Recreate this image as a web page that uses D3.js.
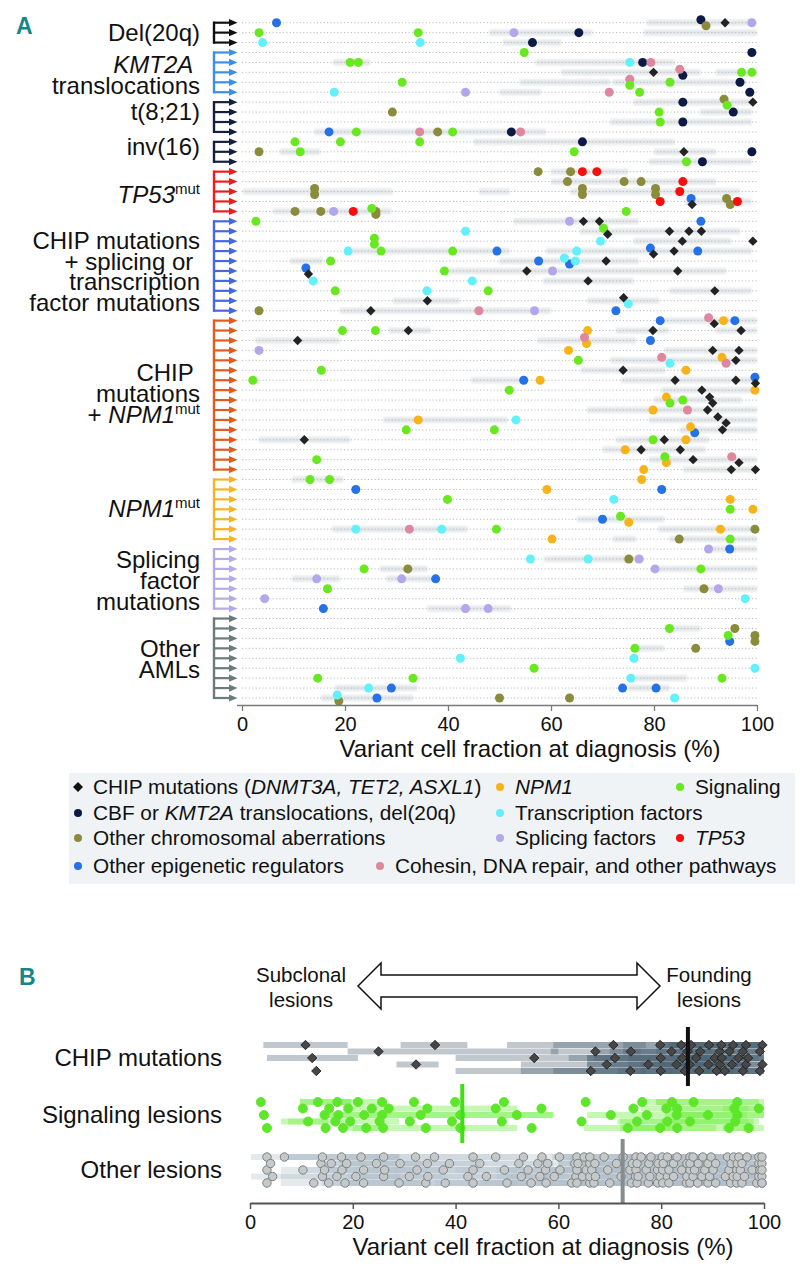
<!DOCTYPE html>
<html>
<head>
<meta charset="utf-8">
<script src="https://cdnjs.cloudflare.com/ajax/libs/d3/7.8.5/d3.min.js"></script>
<style>
  body { margin: 0; background: #fff; }
  svg text { font-family: "Liberation Sans", Arial, sans-serif; fill: #111; white-space: pre; }
</style>
</head>
<body>
<svg id="fig" width="801" height="1280"></svg>
<script>
// Data
// ================================
var vcfTicks = [0, 20, 40, 60, 80, 100];

// patient groups (rows, top to bottom)
var groupSizes = [3, 5, 4, 3, 5, 10, 16, 7, 7, 9];
var groupLabels = [
  ["Del(20q)"],
  ["<i>KMT2A</i> ", "translocations"],
  ["t(8;21)"],
  ["inv(16)"],
  ["<i>TP53</i><sup>mut</sup>"],
  ["CHIP mutations", "+ splicing or ", "transcription", "factor mutations"],
  ["CHIP ", "mutations", "+ <i>NPM1</i><sup>mut</sup>"],
  ["<i>NPM1</i><sup>mut</sup>"],
  ["Splicing", "factor", "mutations"],
  ["Other", "AMLs"]
];

// lesions per category: [row, variant cell fraction %]
var chipPts = [[0,93.8],[5,79.9],[8,99.2],[13,85.8],[18,87.4],[20,66.3],[20,69.4],[21,71.0],[21,83.0],[21,86.8],[21,89.2],[22,85.5],[22,99.2],[23,79.9],[23,83.9],[24,70.7],[25,12.9],[25,55.3],[25,84.6],[26,67.2],[27,91.8],[28,36.0],[28,74.1],[29,25.0],[30,91.7],[31,32.3],[31,79.8],[31,96.9],[32,10.8],[33,91.4],[33,96.5],[34,95.9],[35,74.0],[36,84.1],[36,95.9],[36,99.7],[37,89.3],[38,90.8],[38,91.4],[39,90.4],[40,92.4],[40,94.0],[41,93.3],[42,12.1],[42,82.0],[43,77.5],[43,85.1],[44,87.6],[44,96.5],[45,95.0],[45,99.7]];
var cbfPts = [[0,89.1],[1,65.4],[2,56.4],[3,99.0],[4,77.8],[5,85.6],[6,96.7],[7,98.6],[8,85.6],[9,95.4],[10,85.6],[11,52.3],[12,66.1],[13,99.0],[14,89.4]];
var chromPts = [[0,90.1],[8,93.6],[9,29.2],[11,38.0],[13,3.3],[15,57.5],[15,63.8],[16,63.2],[16,74.2],[16,77.5],[17,14.1],[17,14.1],[17,66.1],[17,66.1],[17,80.3],[17,80.3],[18,94.1],[18,94.8],[19,10.3],[19,15.3],[19,26.0],[19,26.0],[29,3.3],[51,99.6],[52,84.9],[54,75.1],[55,32.2],[57,89.7],[61,95.7],[62,99.6],[62,99.6],[63,88.1],[68,18.8],[68,50.0],[68,63.6]];
var epiPts = [[0,6.7],[11,16.9],[18,87.2],[20,89.1],[23,49.5],[23,79.3],[23,88.5],[24,57.6],[24,63.6],[25,12.4],[29,72.6],[30,81.2],[30,95.7],[32,79.3],[36,54.7],[36,99.6],[41,87.9],[47,22.1],[47,81.5],[50,70.0],[53,94.7],[56,37.6],[59,15.8],[62,94.7],[67,29.0],[67,73.9],[67,80.4],[68,26.2]];
var npm1Pts = [[30,93.5],[31,67.1],[32,66.9],[33,63.4],[34,93.2],[35,86.2],[36,57.9],[37,99.6],[38,82.4],[39,79.8],[40,34.2],[41,87.1],[42,86.2],[43,74.4],[44,82.4],[45,78.0],[46,77.6],[47,59.2],[48,94.8],[49,99.2],[50,75.1],[51,92.9],[52,60.2]];
var tfPts = [[2,4.0],[2,34.6],[4,75.3],[7,17.9],[21,43.4],[22,69.6],[23,20.6],[23,65.0],[24,62.6],[24,64.7],[26,13.8],[26,44.7],[27,35.9],[28,75.0],[34,83.1],[40,53.2],[48,72.2],[51,22.1],[51,38.8],[54,56.0],[54,67.2],[58,97.7],[64,42.4],[64,76.1],[65,99.6],[66,75.5],[67,24.6],[68,18.5],[68,84.0]];
var splicingPts = [[0,99.0],[1,52.8],[7,43.4],[19,17.8],[20,63.6],[25,60.3],[29,56.8],[33,3.3],[53,90.6],[54,77.1],[55,80.2],[56,14.5],[56,31.0],[57,92.5],[58,4.4],[59,43.4],[59,47.8]];
var cohesinPts = [[4,79.4],[5,85.0],[6,75.3],[7,71.3],[11,34.5],[11,54.1],[29,46.0],[30,90.6],[32,66.5],[34,81.5],[34,94.0],[39,86.5],[44,95.1],[51,32.5]];
var signalingPts = [[1,3.3],[1,34.2],[3,54.8],[4,21.0],[4,22.6],[5,97.0],[5,99.0],[6,31.1],[6,75.3],[6,83.1],[7,77.2],[8,94.2],[9,81.0],[10,81.2],[11,22.2],[11,40.9],[12,10.3],[12,19.1],[12,34.5],[13,11.3],[13,64.5],[14,86.3],[19,25.2],[19,74.6],[20,2.7],[21,70.2],[22,25.7],[22,25.7],[23,27.0],[23,40.9],[24,17.2],[25,39.3],[27,18.1],[27,47.8],[31,19.5],[31,25.9],[34,65.3],[35,15.4],[36,2.1],[37,51.9],[38,83.1],[38,85.6],[41,31.9],[41,49.0],[42,79.8],[44,14.5],[44,82.1],[46,13.2],[46,17.0],[48,39.9],[49,94.8],[50,73.5],[51,49.4],[52,94.8],[55,23.7],[55,89.1],[57,16.6],[61,83.0],[62,94.4],[63,76.3],[65,56.7],[66,14.7],[66,33.2],[66,93.2]];
var tp53Pts = [[15,66.1],[15,68.9],[16,85.6],[17,85.0],[18,81.2],[18,96.2],[19,21.6]];

// confidence ranges of VCF estimates: [row, low, high]
var ciRanges = [[0,78.6,99.2],[1,48,68],[1,78,100],[2,50.7,62],[4,17.7,24.9],[4,57,84],[5,62,89],[5,92,100],[6,54,71.5],[6,72,98],[7,50,58],[8,76,99],[9,89,99],[10,71.5,99],[11,14,59],[12,45,84],[13,7.4,15.2],[13,80,92],[14,79,99],[15,60,75],[16,60,92],[17,0.2,29.3],[17,46,52],[17,63.7,96.7],[18,86,99],[19,6,29],[20,52.7,77],[21,65.6,96.7],[22,76,95],[23,20,52],[23,59,99],[24,9.3,15.7],[24,50,77],[25,40,94],[26,58.5,76],[27,83,99],[28,29.3,42.3],[28,67,81],[29,19,60],[30,82,100],[31,28.5,36.7],[31,72.6,82.9],[31,92,100],[32,2.6,19],[32,57.3,76.5],[33,82,100],[34,71.5,100],[35,65.8,82.2],[36,44.5,54.5],[36,73.6,100],[37,81.5,100],[38,80,97],[39,67,100],[40,27.5,51.6],[40,79,100],[41,85,100],[42,3.3,21],[42,72.6,90.7],[43,70,90],[44,79,100],[45,85.7,100],[46,9.7,19.7],[50,65,82],[51,17.5,43.8],[51,80.8,100],[52,72,76.5],[52,83,100],[53,90,100],[54,58.7,78],[55,26.8,36],[55,80.8,100],[56,9.7,19],[56,28,37.4],[57,85.7,100],[59,36,52.3],[61,83,89],[63,76.5,82],[66,75.8,86.4],[67,18,34],[67,75,83],[68,15.4,33.2]];

var categoryKeys = ["chip", "cbf", "chrom", "epi", "npm1", "tf", "splicing", "cohesin", "signaling", "tp53"];
var categoryLabels = [
  "CHIP mutations (<i>DNMT3A, TET2, ASXL1</i>)",
  "CBF or <i>KMT2A</i> translocations, del(20q)",
  "Other chromosomal aberrations",
  "Other epigenetic regulators",
  "<i>NPM1</i>",
  "Transcription factors",
  "Splicing factors",
  "Cohesin, DNA repair, and other pathways",
  "Signaling",
  "<i>TP53</i>"
];
var categoryPts = [chipPts, cbfPts, chromPts, epiPts, npm1Pts, tfPts, splicingPts, cohesinPts, signalingPts, tp53Pts];

// panel B
var lesionClasses = ["CHIP mutations", "Signaling lesions", "Other lesions"];
var lesionMedians = [85.2, 41.3, 72.5];

// Styles
// ================================
var groupColors = ["#111111", "#3d8ee6", "#14203f", "#14203f", "#ee1c1c", "#4468e2", "#e25a1e", "#f6b324", "#b6aaea", "#6b7b7b"];
var labelNudge = [0, 3, -5, -5, 3, 6, -1, 0, 2, 1];
var catColor = {
  chip: "#232323", cbf: "#0d1a45", chrom: "#8a8b3b", epi: "#2571e8", npm1: "#f8b319",
  tf: "#62f0fb", splicing: "#b3a7e9", cohesin: "#de879f", signaling: "#68e81f", tp53: "#fb0d0d"
};
var legendPos = {
  chip: [78, 787], npm1: [500, 787], signaling: [680, 787],
  cbf: [78, 813], tf: [500, 813],
  chrom: [78, 838], splicing: [500, 838], tp53: [680, 838],
  epi: [78, 866], cohesin: [380, 866]
};
var narrowFont = "'Liberation Sans Narrow', 'Liberation Sans', sans-serif";

var svg = d3.select("#fig");

function rich(sel, str, supSize, italicFamily) {
  var re = /<(i|sup)>(.*?)<\/\1>|([^<]+)/g, m;
  while ((m = re.exec(str))) {
    if (m[3]) sel.append("tspan").text(m[3]);
    else if (m[1] === "i") {
      var t = sel.append("tspan").attr("font-style", "italic").text(m[2]);
      if (italicFamily) t.style("font-family", italicFamily);
    } else sel.append("tspan").attr("font-size", supSize).attr("dy", -9).text(m[2]);
  }
}

var diamond = d3.symbol().type(d3.symbolSquare).size(44);

// Panel A
// ================================
var nRows = d3.sum(groupSizes);
var xA = d3.scaleLinear().domain([0, 100]).range([242, 757]);
var yA = d3.scaleLinear().domain([0, nRows - 1]).range([22.7, 698]);

svg.append("defs").append("filter").attr("id", "soft")
  .attr("x", "-10%").attr("y", "-100%").attr("width", "120%").attr("height", "300%")
  .append("feGaussianBlur").attr("stdDeviation", 1.3);

svg.append("text").attr("x", 16).attr("y", 34).style("font-family", narrowFont)
  .attr("font-weight", "bold").attr("font-size", 23).style("fill", "#16868a").text("A");

// shaded CI ranges
svg.append("g").selectAll("rect").data(ciRanges).enter().append("rect")
  .attr("x", d => xA(d[1])).attr("width", d => xA(d[2]) - xA(d[1]))
  .attr("y", d => yA(d[0]) - 3).attr("height", 6)
  .attr("fill", "#d3d8db").attr("opacity", 0.6).attr("filter", "url(#soft)");

// dotted row lines
svg.append("g").selectAll("line").data(d3.range(nRows)).enter().append("line")
  .attr("x1", xA(0)).attr("x2", xA(100)).attr("y1", d => yA(d)).attr("y2", d => yA(d))
  .attr("stroke", "#b9bcbf").attr("stroke-width", 1).attr("stroke-dasharray", "1.2,2.2");

// group brackets and labels
var groupStart = 0;
groupSizes.forEach(function (n, g) {
  var col = groupColors[g];
  var rows = d3.range(groupStart, groupStart + n);
  var br = svg.append("g");
  br.append("line").attr("x1", 214).attr("x2", 214)
    .attr("y1", yA(rows[0]) - 1).attr("y2", yA(rows[n - 1]) + 1)
    .attr("stroke", col).attr("stroke-width", 2.4);
  rows.forEach(function (r) {
    br.append("line").attr("x1", 213).attr("x2", 231).attr("y1", yA(r)).attr("y2", yA(r))
      .attr("stroke", col).attr("stroke-width", 2.2);
    br.append("path").attr("d", `M229,${yA(r) - 3.6}L237.5,${yA(r)}L229,${yA(r) + 3.6}Z`).attr("fill", col);
  });
  var lines = groupLabels[g];
  var center = (yA(rows[0]) + yA(rows[n - 1])) / 2;
  lines.forEach(function (s, i) {
    var t = svg.append("text").attr("x", 200)
      .attr("y", center - (lines.length - 1) / 2 * 20.8 + 8 + labelNudge[g] + i * 20.8)
      .attr("text-anchor", "end").attr("font-size", 24);
    rich(t, s, 15);
  });
  groupStart += n;
});

// lesion markers, with small vertical offset for overlapping ones
var allPts = [];
categoryKeys.forEach(function (k, ci) {
  categoryPts[ci].forEach(function (p) { allPts.push({ cat: k, row: p[0], v: p[1], dy: 0 }); });
});
d3.groups(allPts, d => d.row).forEach(function (gr) {
  var pts = gr[1].sort((a, b) => a.v - b.v);
  for (var i = 1; i < pts.length; i++) {
    if (pts[i].v - pts[i - 1].v < 1.6 && pts[i - 1].dy === 0) { pts[i - 1].dy = -3; pts[i].dy = 3; }
  }
});

svg.append("g").selectAll("circle").data(allPts.filter(d => d.cat !== "chip")).enter().append("circle")
  .attr("cx", d => xA(d.v)).attr("cy", d => yA(d.row) + d.dy).attr("r", 4.5)
  .attr("fill", d => catColor[d.cat]);

svg.append("g").selectAll("path").data(allPts.filter(d => d.cat === "chip")).enter().append("path")
  .attr("d", diamond)
  .attr("transform", d => `translate(${xA(d.v)},${yA(d.row) + d.dy}) rotate(45)`)
  .attr("fill", catColor.chip);

// x axis
var axA = svg.append("g").attr("transform", "translate(0,705)")
  .call(d3.axisBottom(xA).tickValues(vcfTicks).tickSize(6).tickSizeOuter(0).tickPadding(6));
axA.select(".domain").attr("stroke", "#7a7a7a").attr("stroke-width", 1.5).attr("d", "M237,0.5H757");
axA.selectAll(".tick line").attr("stroke", "#7a7a7a").attr("stroke-width", 1.3);
axA.selectAll(".tick text").attr("font-size", 20).style("font-family", "'Liberation Sans', Arial, sans-serif").style("fill", "#111");

svg.append("text").attr("x", 530).attr("y", 757).attr("text-anchor", "middle")
  .attr("font-size", 24).text("Variant cell fraction at diagnosis (%)");

// legend
svg.append("rect").attr("x", 69).attr("y", 773).attr("width", 726).attr("height", 111).attr("fill", "#eff3f5");
categoryKeys.forEach(function (k, ci) {
  var p = legendPos[k];
  if (k === "chip") {
    svg.append("path").attr("d", d3.symbol().type(d3.symbolSquare).size(50))
      .attr("transform", `translate(${p[0]},${p[1]}) rotate(45)`).attr("fill", "#111");
  } else {
    svg.append("circle").attr("cx", p[0]).attr("cy", p[1]).attr("r", 4).attr("fill", catColor[k]);
  }
  var t = svg.append("text").attr("x", p[0] + 15).attr("y", p[1] + 7.4).attr("font-size", 20.8);
  rich(t, categoryLabels[ci], 14, (k === "chip" || k === "cbf") ? narrowFont : null);
});

// Panel B
// ================================
var xB = d3.scaleLinear().domain([0, 100]).range([250, 764]);
var bCenters = [1058, 1115, 1170];
var bColors = [
  { mark: "#474747", stroke: "#1c1c1c", bar: "#4b6072", barOp: 0.35, med: "#111111" },
  { mark: "#5ee62b", stroke: "#5ee62b", bar: "#7ff055", barOp: 0.45, med: "#3ee014" },
  { mark: "#c6c9ca", stroke: "#7b8182", bar: "#b3c1cb", barOp: 0.35, med: "#858d8e" }
];

svg.append("text").attr("x", 19).attr("y", 985).style("font-family", narrowFont)
  .attr("font-weight", "bold").attr("font-size", 23).style("fill", "#16868a").text("B");

// double arrow
svg.append("path")
  .attr("d", "M358,986L381,963V975H637V963L660,986L637,1009V997H381V1009Z")
  .attr("fill", "#fff").attr("stroke", "#111").attr("stroke-width", 1.5);
[["Subclonal", 301, 982], ["lesions", 301, 1007], ["Founding", 709, 982], ["lesions", 709, 1007]].forEach(function (d) {
  svg.append("text").attr("x", d[1]).attr("y", d[2]).attr("text-anchor", "middle").attr("font-size", 20.5).text(d[0]);
});

function ciFor(row, v) {
  var c = ciRanges.filter(b => b[0] === row && b[1] <= v + 0.5 && b[2] >= v - 0.5);
  return c.length ? c.sort((a, b) => (a[2] - a[1]) - (b[2] - b[1]))[0] : null;
}

var classPts = [
  allPts.filter(d => d.cat === "chip"),
  allPts.filter(d => d.cat === "signaling"),
  allPts.filter(d => d.cat !== "chip" && d.cat !== "signaling")
];
var laneOrder = [0, 2, 4, 1, 3];

classPts.forEach(function (pts, c) {
  var col = bColors[c];
  var sorted = pts.slice().sort((a, b) => a.v - b.v);
  sorted.forEach(function (d, i) { d.by = bCenters[c] + (laneOrder[i % 5] - 2) * 6.5; d.ci = ciFor(d.row, d.v); });
  var g = svg.append("g");
  g.selectAll("rect").data(sorted.filter(d => d.ci)).enter().append("rect")
    .attr("x", d => xB(d.ci[1])).attr("width", d => xB(d.ci[2]) - xB(d.ci[1]))
    .attr("y", d => d.by - 3).attr("height", 6)
    .attr("fill", col.bar).attr("opacity", col.barOp);
  if (c === 0) {
    g.selectAll("path").data(sorted).enter().append("path")
      .attr("d", diamond).attr("transform", d => `translate(${xB(d.v)},${d.by}) rotate(45)`)
      .attr("fill", col.mark).attr("stroke", col.stroke).attr("stroke-width", 0.8);
  } else {
    g.selectAll("circle").data(sorted).enter().append("circle")
      .attr("cx", d => xB(d.v)).attr("cy", d => d.by).attr("r", c === 1 ? 4.5 : 4.2)
      .attr("fill", col.mark).attr("stroke", col.stroke).attr("stroke-width", 1);
  }
  svg.append("line").attr("x1", xB(lesionMedians[c])).attr("x2", xB(lesionMedians[c]))
    .attr("y1", bCenters[c] - 31).attr("y2", c === 2 ? 1203 : bCenters[c] + 28)
    .attr("stroke", col.med).attr("stroke-width", 4);
  svg.append("text").attr("x", 222).attr("y", bCenters[c] + 8).attr("text-anchor", "end")
    .attr("font-size", 24).text(lesionClasses[c]);
});

var axB = svg.append("g").attr("transform", "translate(0,1203)")
  .call(d3.axisBottom(xB).tickValues(vcfTicks).tickSize(6).tickSizeOuter(0).tickPadding(6));
axB.select(".domain").attr("stroke", "#555").attr("stroke-width", 2);
axB.selectAll(".tick line").attr("stroke", "#555").attr("stroke-width", 1.5);
axB.selectAll(".tick text").attr("font-size", 20).style("font-family", "'Liberation Sans', Arial, sans-serif").style("fill", "#111");

svg.append("text").attr("x", 543).attr("y", 1255).attr("text-anchor", "middle")
  .attr("font-size", 24).text("Variant cell fraction at diagnosis (%)");
</script>
</body>
</html>
